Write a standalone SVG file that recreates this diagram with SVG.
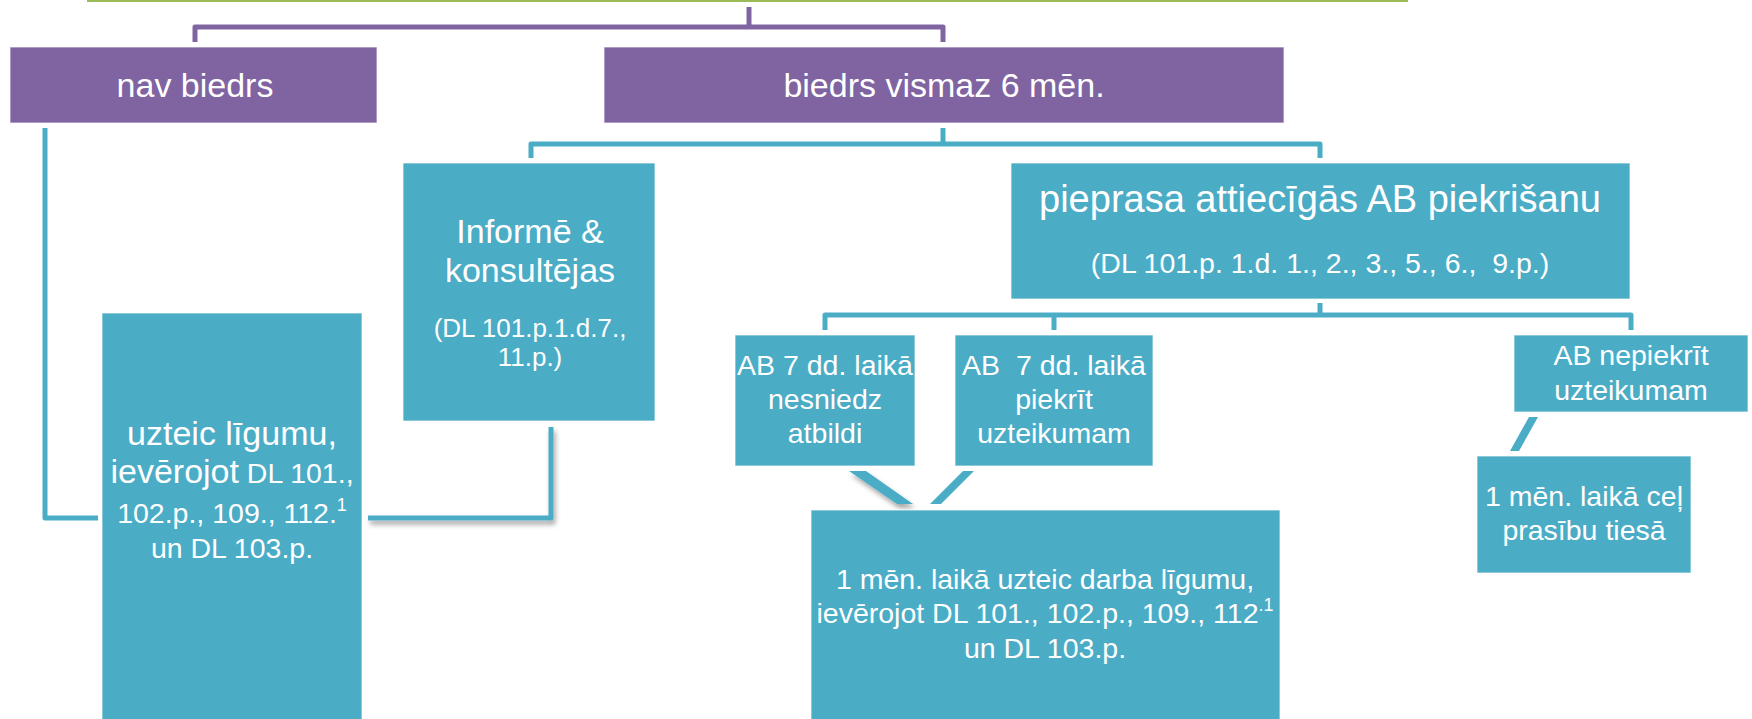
<svg xmlns="http://www.w3.org/2000/svg" width="1752" height="719" viewBox="0 0 1752 719">
  <style>
    .bg { fill: #ffffff; }
    .pbox { fill: #8064A2; stroke: #ffffff; stroke-opacity: 0.6; stroke-width: 1.2; }
    .tbox { fill: #4BACC6; stroke: #ffffff; stroke-opacity: 0.6; stroke-width: 1.2; }
    .pline { fill: none; stroke: #8064A2; stroke-width: 5; stroke-linejoin: round; }
    .tline { fill: none; stroke: #4BACC6; stroke-width: 5; stroke-linejoin: round; }
    .tdiag { fill: #4BACC6; }
    text { font-family: "Liberation Sans", Arial, sans-serif; fill: #ffffff; text-anchor: middle; }
    .lg { font-size: 34px; }
    .xl { font-size: 38px; }
    .sm { font-size: 28.5px; }
    .xs { font-size: 26px; }
    .sup { font-size: 18px; }
  </style>
  <defs>
    <filter id="shadow" x="-20%" y="-20%" width="140%" height="160%">
      <feDropShadow dx="2" dy="4" stdDeviation="2.5" flood-color="#000000" flood-opacity="0.35"/>
    </filter>
  </defs>
  <rect class="bg" x="0" y="0" width="1752" height="719"/>
  <rect x="87" y="0" width="1321" height="2" fill="#9BBB59"/>

  <g id="connectors">
    <path class="pline" d="M749,7 V27"/>
    <path class="pline" d="M195,42 V27 H943 V42"/>
    <path class="tline" d="M45,128 V518 H98"/>
    <path class="tline" d="M551,427 V518 H368" filter="url(#shadow)"/>
    <path class="tline" d="M943,128 V144"/>
    <path class="tline" d="M531,158 V144 H1320 V158"/>
    <path class="tline" d="M1320,303 V315"/>
    <path class="tline" d="M825,330 V315 H1631 V330"/>
    <path class="tline" d="M1054,315 V330"/>
    <polygon class="tdiag" points="849,471 866,471 913,504 897,504" filter="url(#shadow)"/>
    <polygon class="tdiag" points="963,471 974,471 941,504 930,504"/>
    <polygon class="tdiag" points="1529,417 1538,417 1519,451 1510,451"/>
  </g>

  <g id="nav-biedrs">
    <rect class="pbox" x="10" y="47" width="367" height="76"/>
    <text class="lg" x="195" y="97">nav biedrs</text>
  </g>

  <g id="biedrs-6men">
    <rect class="pbox" x="604" y="47" width="680" height="76"/>
    <text class="lg" x="944" y="97">biedrs vismaz 6 mēn.</text>
  </g>

  <g id="informe">
    <rect class="tbox" x="403" y="163" width="252" height="258"/>
    <text class="lg" x="530" y="243">Informē &amp;</text>
    <text class="lg" x="530" y="282">konsultējas</text>
    <text class="xs" x="530" y="337">(DL 101.p.1.d.7.,</text>
    <text class="xs" x="530" y="366">11.p.)</text>
  </g>

  <g id="uzteic">
    <rect class="tbox" x="102" y="313" width="260" height="420"/>
    <text class="lg" x="232" y="445">uzteic līgumu,</text>
    <text x="232" y="483"><tspan class="lg">ievērojot</tspan><tspan class="sm"> DL 101.,</tspan></text>
    <text class="sm" x="232" y="523">102.p., 109., 112.<tspan class="sup" dy="-12">1</tspan></text>
    <text class="sm" x="232" y="558">un DL 103.p.</text>
  </g>

  <g id="pieprasa">
    <rect class="tbox" x="1011" y="163" width="619" height="136"/>
    <text class="xl" x="1320" y="212">pieprasa attiecīgās AB piekrišanu</text>
    <text class="sm" x="1320" y="273" xml:space="preserve">(DL 101.p. 1.d. 1., 2., 3., 5., 6.,  9.p.)</text>
  </g>

  <g id="ab-nesniedz">
    <rect class="tbox" x="735" y="335" width="180" height="131"/>
    <text class="sm" x="825" y="375">AB 7 dd. laikā</text>
    <text class="sm" x="825" y="409">nesniedz</text>
    <text class="sm" x="825" y="443">atbildi</text>
  </g>

  <g id="ab-piekrit">
    <rect class="tbox" x="955" y="335" width="198" height="131"/>
    <text class="sm" x="1054" y="375" xml:space="preserve">AB  7 dd. laikā</text>
    <text class="sm" x="1054" y="409">piekrīt</text>
    <text class="sm" x="1054" y="443">uzteikumam</text>
  </g>

  <g id="ab-nepiekrit">
    <rect class="tbox" x="1514" y="335" width="234" height="77"/>
    <text class="sm" x="1631" y="365">AB nepiekrīt</text>
    <text class="sm" x="1631" y="400">uzteikumam</text>
  </g>

  <g id="darba-ligums">
    <rect class="tbox" x="811" y="510" width="469" height="220"/>
    <text class="sm" x="1045" y="589">1 mēn. laikā uzteic darba līgumu,</text>
    <text class="sm" x="1045" y="623">ievērojot DL 101., 102.p., 109., 112<tspan class="sup" dy="-12">.1</tspan></text>
    <text class="sm" x="1045" y="658">un DL 103.p.</text>
  </g>

  <g id="tiesa">
    <rect class="tbox" x="1477" y="456" width="214" height="117"/>
    <text class="sm" x="1584" y="506">1 mēn. laikā ceļ</text>
    <text class="sm" x="1584" y="540">prasību tiesā</text>
  </g>
</svg>
